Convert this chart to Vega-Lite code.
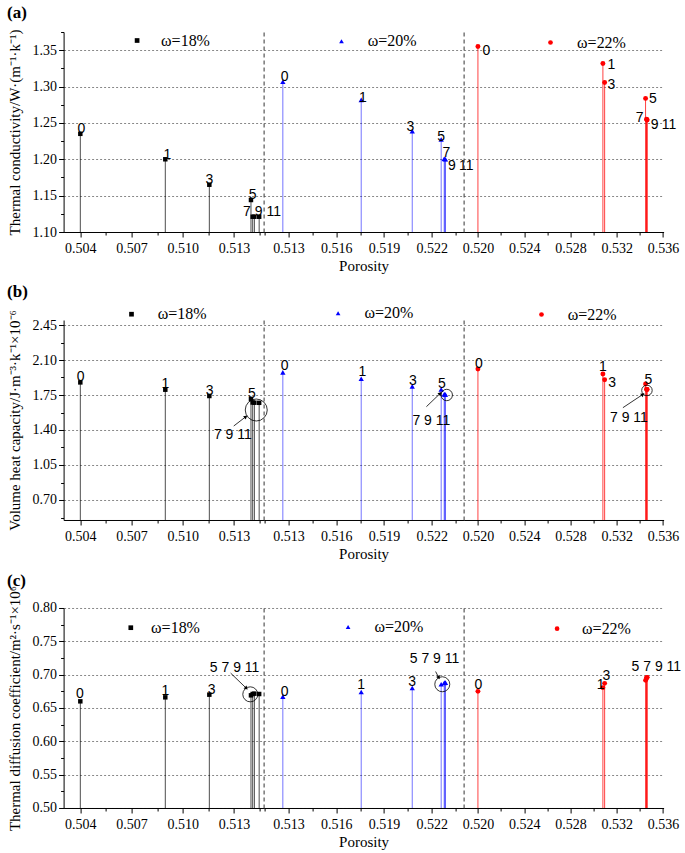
{
"$schema":"https://vega.github.io/schema/vega-lite/v6.json",
"padding":{"left":6.6,"top":4,"right":0,"bottom":0},
"background":"white",
"config":{
 "view":{"stroke":null},
 "axis":{"domainColor":"#000000","tickColor":"#000000","labelColor":"#000000","titleColor":"#000000","labelFont":"Liberation Serif","titleFont":"Liberation Serif","labelFontSize":14,"titleFontSize":15,"titleFontWeight":"normal","gridColor":"#888888","gridDash":[2,2],"labelFlush":false,"labelOverlap":false,"domainWidth":1,"tickWidth":1,"tickCount":100},
 "legend":{"labelFont":"Liberation Serif","labelFontSize":16,"labelColor":"#000000","symbolSize":22,"padding":0,"symbolStrokeWidth":0,"title":null},
 "title":{"font":"Liberation Serif","fontSize":17,"fontWeight":"bold","anchor":"start","frame":"bounds","color":"#000000"}
},
"datasets":{
 "pts":[
  {"p":"a","s":18,"omega":"ω=18%","n":0,"x":0.504,"y":1.235},
  {"p":"a","s":18,"omega":"ω=18%","n":1,"x":0.50898,"y":1.2},
  {"p":"a","s":18,"omega":"ω=18%","n":3,"x":0.51156,"y":1.165},
  {"p":"a","s":18,"omega":"ω=18%","n":5,"x":0.514,"y":1.144},
  {"p":"a","s":18,"omega":"ω=18%","n":7,"x":0.5141,"y":1.121},
  {"p":"a","s":18,"omega":"ω=18%","n":9,"x":0.5142,"y":1.121},
  {"p":"a","s":18,"omega":"ω=18%","n":11,"x":0.51448,"y":1.121},
  {"p":"a","s":20,"omega":"ω=20%","n":0,"x":0.51264,"y":1.3065},
  {"p":"a","s":20,"omega":"ω=20%","n":1,"x":0.51757,"y":1.2817},
  {"p":"a","s":20,"omega":"ω=20%","n":3,"x":0.52078,"y":1.2387},
  {"p":"a","s":20,"omega":"ω=20%","n":5,"x":0.5226,"y":1.2273},
  {"p":"a","s":20,"omega":"ω=20%","n":7,"x":0.52279,"y":1.2007},
  {"p":"a","s":20,"omega":"ω=20%","n":9,"x":0.52283,"y":1.2003},
  {"p":"a","s":20,"omega":"ω=20%","n":11,"x":0.52287,"y":1.2},
  {"p":"a","s":22,"omega":"ω=22%","n":0,"x":0.52,"y":1.355},
  {"p":"a","s":22,"omega":"ω=22%","n":1,"x":0.53081,"y":1.3317},
  {"p":"a","s":22,"omega":"ω=22%","n":3,"x":0.53096,"y":1.3056},
  {"p":"a","s":22,"omega":"ω=22%","n":5,"x":0.5345,"y":1.2837},
  {"p":"a","s":22,"omega":"ω=22%","n":7,"x":0.53458,"y":1.255},
  {"p":"a","s":22,"omega":"ω=22%","n":9,"x":0.53461,"y":1.2545},
  {"p":"a","s":22,"omega":"ω=22%","n":11,"x":0.53464,"y":1.254},
  {"p":"b","s":18,"omega":"ω=18%","n":0,"x":0.504,"y":1.876},
  {"p":"b","s":18,"omega":"ω=18%","n":1,"x":0.50898,"y":1.803},
  {"p":"b","s":18,"omega":"ω=18%","n":3,"x":0.51156,"y":1.74},
  {"p":"b","s":18,"omega":"ω=18%","n":5,"x":0.514,"y":1.71},
  {"p":"b","s":18,"omega":"ω=18%","n":7,"x":0.5141,"y":1.675},
  {"p":"b","s":18,"omega":"ω=18%","n":9,"x":0.5142,"y":1.673},
  {"p":"b","s":18,"omega":"ω=18%","n":11,"x":0.51448,"y":1.672},
  {"p":"b","s":20,"omega":"ω=20%","n":0,"x":0.51264,"y":1.976},
  {"p":"b","s":20,"omega":"ω=20%","n":1,"x":0.51757,"y":1.913},
  {"p":"b","s":20,"omega":"ω=20%","n":3,"x":0.52078,"y":1.836},
  {"p":"b","s":20,"omega":"ω=20%","n":5,"x":0.5226,"y":1.806},
  {"p":"b","s":20,"omega":"ω=20%","n":7,"x":0.52279,"y":1.758},
  {"p":"b","s":20,"omega":"ω=20%","n":9,"x":0.52283,"y":1.756},
  {"p":"b","s":20,"omega":"ω=20%","n":11,"x":0.52287,"y":1.755},
  {"p":"b","s":22,"omega":"ω=22%","n":0,"x":0.52,"y":2.01},
  {"p":"b","s":22,"omega":"ω=22%","n":1,"x":0.53081,"y":1.96},
  {"p":"b","s":22,"omega":"ω=22%","n":3,"x":0.53096,"y":1.903},
  {"p":"b","s":22,"omega":"ω=22%","n":5,"x":0.5345,"y":1.86},
  {"p":"b","s":22,"omega":"ω=22%","n":7,"x":0.53458,"y":1.808},
  {"p":"b","s":22,"omega":"ω=22%","n":9,"x":0.53461,"y":1.806},
  {"p":"b","s":22,"omega":"ω=22%","n":11,"x":0.53464,"y":1.805},
  {"p":"c","s":18,"omega":"ω=18%","n":0,"x":0.504,"y":0.66},
  {"p":"c","s":18,"omega":"ω=18%","n":1,"x":0.50898,"y":0.666},
  {"p":"c","s":18,"omega":"ω=18%","n":3,"x":0.51156,"y":0.67},
  {"p":"c","s":18,"omega":"ω=18%","n":5,"x":0.514,"y":0.669},
  {"p":"c","s":18,"omega":"ω=18%","n":7,"x":0.5141,"y":0.671},
  {"p":"c","s":18,"omega":"ω=18%","n":9,"x":0.5142,"y":0.6715},
  {"p":"c","s":18,"omega":"ω=18%","n":11,"x":0.51448,"y":0.671},
  {"p":"c","s":20,"omega":"ω=20%","n":0,"x":0.51264,"y":0.667},
  {"p":"c","s":20,"omega":"ω=20%","n":1,"x":0.51757,"y":0.674},
  {"p":"c","s":20,"omega":"ω=20%","n":3,"x":0.52078,"y":0.68},
  {"p":"c","s":20,"omega":"ω=20%","n":5,"x":0.5226,"y":0.6855},
  {"p":"c","s":20,"omega":"ω=20%","n":7,"x":0.52279,"y":0.6875},
  {"p":"c","s":20,"omega":"ω=20%","n":9,"x":0.52283,"y":0.688},
  {"p":"c","s":20,"omega":"ω=20%","n":11,"x":0.52287,"y":0.688},
  {"p":"c","s":22,"omega":"ω=22%","n":0,"x":0.52,"y":0.675},
  {"p":"c","s":22,"omega":"ω=22%","n":1,"x":0.53081,"y":0.6805},
  {"p":"c","s":22,"omega":"ω=22%","n":3,"x":0.53096,"y":0.687},
  {"p":"c","s":22,"omega":"ω=22%","n":5,"x":0.5345,"y":0.6915},
  {"p":"c","s":22,"omega":"ω=22%","n":7,"x":0.53458,"y":0.695},
  {"p":"c","s":22,"omega":"ω=22%","n":9,"x":0.53461,"y":0.6955},
  {"p":"c","s":22,"omega":"ω=22%","n":11,"x":0.53464,"y":0.696}
 ],
 "lbl":[
  {"p":"a","s":18,"t":"0","x":0.50406,"y":1.242},
  {"p":"a","s":18,"t":"1","x":0.5091,"y":1.2055},
  {"p":"a","s":18,"t":"3","x":0.51156,"y":1.1711},
  {"p":"a","s":18,"t":"5","x":0.5141,"y":1.1509},
  {"p":"a","s":18,"t":"7","x":0.51376,"y":1.1279},
  {"p":"a","s":18,"t":"9","x":0.51445,"y":1.1279},
  {"p":"a","s":18,"t":"11","x":0.51533,"y":1.1279},
  {"p":"a","s":20,"t":"0","x":0.51275,"y":1.3127},
  {"p":"a","s":20,"t":"1","x":0.51767,"y":1.2847},
  {"p":"a","s":20,"t":"3","x":0.52067,"y":1.2444},
  {"p":"a","s":20,"t":"5","x":0.5226,"y":1.2306},
  {"p":"a","s":20,"t":"7","x":0.52292,"y":1.209},
  {"p":"a","s":20,"t":"9","x":0.52328,"y":1.1907},
  {"p":"a","s":20,"t":"11","x":0.52418,"y":1.1907},
  {"p":"a","s":22,"t":"0","x":0.52073,"y":1.3489},
  {"p":"a","s":22,"t":"1","x":0.53154,"y":1.3296},
  {"p":"a","s":22,"t":"3","x":0.53154,"y":1.3017},
  {"p":"a","s":22,"t":"5","x":0.53514,"y":1.2833},
  {"p":"a","s":22,"t":"7","x":0.53399,"y":1.2563},
  {"p":"a","s":22,"t":"9","x":0.53528,"y":1.2471},
  {"p":"a","s":22,"t":"11","x":0.53652,"y":1.2471},
  {"p":"b","s":18,"t":"0","x":0.50402,"y":1.926},
  {"p":"b","s":18,"t":"1","x":0.50898,"y":1.856},
  {"p":"b","s":18,"t":"3","x":0.51158,"y":1.793},
  {"p":"b","s":18,"t":"5","x":0.51406,"y":1.763},
  {"p":"b","s":18,"t":"7 9 11","x":0.51294,"y":1.35},
  {"p":"b","s":20,"t":"0","x":0.51275,"y":2.043},
  {"p":"b","s":20,"t":"1","x":0.51765,"y":1.976},
  {"p":"b","s":20,"t":"3","x":0.52082,"y":1.893},
  {"p":"b","s":20,"t":"5","x":0.52264,"y":1.86},
  {"p":"b","s":20,"t":"7 9 11","x":0.52198,"y":1.493},
  {"p":"b","s":22,"t":"0","x":0.52009,"y":2.06},
  {"p":"b","s":22,"t":"1","x":0.53081,"y":2.033},
  {"p":"b","s":22,"t":"3","x":0.53162,"y":1.873},
  {"p":"b","s":22,"t":"5","x":0.53474,"y":1.896},
  {"p":"b","s":22,"t":"7 9 11","x":0.53306,"y":1.523},
  {"p":"c","s":18,"t":"0","x":0.50398,"y":0.6705},
  {"p":"c","s":18,"t":"1","x":0.50898,"y":0.675},
  {"p":"c","s":18,"t":"3","x":0.51169,"y":0.677},
  {"p":"c","s":18,"t":"5 7 9 11","x":0.51304,"y":0.7107},
  {"p":"c","s":20,"t":"0","x":0.51275,"y":0.674},
  {"p":"c","s":20,"t":"1","x":0.51757,"y":0.6841},
  {"p":"c","s":20,"t":"3","x":0.52078,"y":0.6891},
  {"p":"c","s":20,"t":"5 7 9 11","x":0.52218,"y":0.7234},
  {"p":"c","s":22,"t":"0","x":0.52003,"y":0.685},
  {"p":"c","s":22,"t":"1","x":0.53061,"y":0.6846},
  {"p":"c","s":22,"t":"3","x":0.53111,"y":0.6982},
  {"p":"c","s":22,"t":"5 7 9 11","x":0.53543,"y":0.7118}
 ],
 "circ":[
  {"p":"b","s":18,"x":0.51431,"y":1.6},
  {"p":"b","s":20,"x":0.52295,"y":1.75},
  {"p":"b","s":22,"x":0.53462,"y":1.796},
  {"p":"c","s":18,"x":0.51396,"y":0.6705},
  {"p":"c","s":20,"x":0.52267,"y":0.6856}
 ],
 "arr":[
  {"p":"b","s":18,"x":0.51299,"y":1.44,"x2":0.5137,"y2":1.533},
  {"p":"b","s":20,"x":0.52167,"y":1.633,"x2":0.52254,"y2":1.766},
  {"p":"b","s":22,"x":0.53254,"y":1.623,"x2":0.53427,"y2":1.756},
  {"p":"c","s":18,"x":0.51281,"y":0.7023,"x2":0.51373,"y2":0.6796},
  {"p":"c","s":20,"x":0.52225,"y":0.7047,"x2":0.52245,"y2":0.6956}
 ]
},
"spacing":9,
"resolve":{"scale":{"x":"independent","y":"independent","color":"independent","shape":"independent"},"axis":{"x":"independent","y":"independent"},"legend":{"color":"independent","shape":"independent"}},
"vconcat":[
{"title":{"text":"\u00a0\u00a0\u00a0(a)","offset":3},"bounds":"flush","spacing":0,
 "resolve":{"scale":{"x":"independent","y":"independent","color":"independent","shape":"independent"},"axis":{"x":"independent","y":"independent"},"legend":{"color":"independent","shape":"independent"}},
 "hconcat":[
  {"width":200,"height":200,"layer":[
   {"data":{"name":"pts"},"transform":[{"filter":"datum.p=='a' && datum.s==18"}],"mark":{"type":"rule","color":"#000000","strokeOpacity":0.7},
    "encoding":{"x":{"field":"x","type":"quantitative","scale":{"domain":[0.50302,0.51474],"nice":false,"zero":false},"axis":{"title":null,"grid":false,"tickCount":100,"values":[0.504,0.5055,0.507,0.5085,0.51,0.5115,0.513,0.5145],"labelExpr":"abs((datum.value-0.504)/0.003-round((datum.value-0.504)/0.003))<0.01 ? format(datum.value,'.3f') : ''","tickSize":{"condition":{"test":"abs((datum.value-0.504)/0.003-round((datum.value-0.504)/0.003))<0.01","value":5},"value":3},"labelPadding":4.5}},
     "y":{"field":"y","type":"quantitative","scale":{"domain":[1.1,1.375],"nice":false,"zero":false},"axis":{"title":"Thermal conductivity/W·(m⁻¹·k⁻¹)","tickCount":100,"values":[1.1,1.125,1.15,1.175,1.2,1.225,1.25,1.275,1.3,1.325,1.35,1.375],"labelExpr":"abs(datum.value*20-round(datum.value*20))<0.01 ? format(datum.value,'.2f') : ''","tickSize":{"condition":{"test":"abs(datum.value*20-round(datum.value*20))<0.01","value":5},"value":3},"gridOpacity":{"condition":{"test":"abs(datum.value*20-round(datum.value*20))<0.01","value":1},"value":0},"labelPadding":2,"titlePadding":10}},
     "y2":{"datum":1.1}}},
   {"data":{"name":"pts"},"transform":[{"filter":"datum.p=='a' && datum.s==18"}],"mark":{"type":"point","filled":true,"opacity":1,"size":20},
    "encoding":{"x":{"field":"x","type":"quantitative"},"y":{"field":"y","type":"quantitative"},
     "color":{"field":"omega","type":"nominal","scale":{"domain":["ω=18%"],"range":["#000000"]},"legend":{"orient":"none","legendX":65.5,"legendY":0.5,"labelOffset":16}},
     "shape":{"field":"omega","type":"nominal","scale":{"domain":["ω=18%"],"range":["square"]}}}},
   {"data":{"name":"lbl"},"transform":[{"filter":"datum.p=='a' && datum.s==18"}],"mark":{"type":"text","font":"Liberation Sans","fontSize":14,"color":"#000000"},
    "encoding":{"x":{"field":"x","type":"quantitative"},"y":{"field":"y","type":"quantitative"},"text":{"field":"t"}}}
  ]},
  {"width":200,"height":200,"layer":[
   {"data":{"name":"pts"},"transform":[{"filter":"datum.p=='a' && datum.s==20"}],"mark":{"type":"rule","color":"#0000ff","strokeOpacity":0.55},
    "encoding":{"x":{"field":"x","type":"quantitative","scale":{"domain":[0.51143,0.52401],"nice":false,"zero":false},"axis":{"title":"Porosity","titlePadding":3,"grid":false,"tickCount":100,"values":[0.5115,0.513,0.5145,0.516,0.5175,0.519,0.5205,0.522,0.5235],"labelExpr":"abs((datum.value-0.513)/0.003-round((datum.value-0.513)/0.003))<0.01 ? format(datum.value,'.3f') : ''","tickSize":{"condition":{"test":"abs((datum.value-0.513)/0.003-round((datum.value-0.513)/0.003))<0.01","value":5},"value":3},"labelPadding":4.5}},
     "y":{"field":"y","type":"quantitative","scale":{"domain":[1.1,1.375],"nice":false,"zero":false},"axis":{"title":null,"labels":false,"ticks":false,"domainDash":[4,3],"domainColor":"#333333","minExtent":0,"tickCount":100,"values":[1.1,1.125,1.15,1.175,1.2,1.225,1.25,1.275,1.3,1.325,1.35,1.375],"gridOpacity":{"condition":{"test":"abs(datum.value*20-round(datum.value*20))<0.01","value":1},"value":0}}},
     "y2":{"datum":1.1}}},
   {"data":{"name":"pts"},"transform":[{"filter":"datum.p=='a' && datum.s==20"}],"mark":{"type":"point","filled":true,"opacity":1,"size":28},
    "encoding":{"x":{"field":"x","type":"quantitative"},"y":{"field":"y","type":"quantitative"},
     "color":{"field":"omega","type":"nominal","scale":{"domain":["ω=20%"],"range":["#0000ff"]},"legend":{"orient":"none","legendX":69.9,"legendY":1.2,"labelOffset":18.3}},
     "shape":{"field":"omega","type":"nominal","scale":{"domain":["ω=20%"],"range":["triangle-up"]}}}},
   {"data":{"name":"lbl"},"transform":[{"filter":"datum.p=='a' && datum.s==20"}],"mark":{"type":"text","font":"Liberation Sans","fontSize":14,"color":"#000000"},
    "encoding":{"x":{"field":"x","type":"quantitative"},"y":{"field":"y","type":"quantitative"},"text":{"field":"t"}}}
  ]},
  {"width":200,"height":200,"layer":[
   {"data":{"name":"pts"},"transform":[{"filter":"datum.p=='a' && datum.s==22"}],"mark":{"type":"rule","color":"#ff0000","strokeOpacity":0.75},
    "encoding":{"x":{"field":"x","type":"quantitative","scale":{"domain":[0.51876,0.53606],"nice":false,"zero":false},"axis":{"title":null,"grid":false,"tickCount":100,"values":[0.52,0.522,0.524,0.526,0.528,0.53,0.532,0.534,0.536],"labelExpr":"abs((datum.value-0.52)/0.004-round((datum.value-0.52)/0.004))<0.01 ? format(datum.value,'.3f') : ''","tickSize":{"condition":{"test":"abs((datum.value-0.52)/0.004-round((datum.value-0.52)/0.004))<0.01","value":5},"value":3},"labelPadding":4.5}},
     "y":{"field":"y","type":"quantitative","scale":{"domain":[1.1,1.375],"nice":false,"zero":false},"axis":{"title":null,"labels":false,"ticks":false,"domainDash":[4,3],"domainColor":"#333333","minExtent":0,"tickCount":100,"values":[1.1,1.125,1.15,1.175,1.2,1.225,1.25,1.275,1.3,1.325,1.35,1.375],"gridOpacity":{"condition":{"test":"abs(datum.value*20-round(datum.value*20))<0.01","value":1},"value":0}}},
     "y2":{"datum":1.1}}},
   {"data":{"name":"pts"},"transform":[{"filter":"datum.p=='a' && datum.s==22"}],"mark":{"type":"point","filled":true,"opacity":1,"size":24},
    "encoding":{"x":{"field":"x","type":"quantitative"},"y":{"field":"y","type":"quantitative"},
     "color":{"field":"omega","type":"nominal","scale":{"domain":["ω=22%"],"range":["#ff0000"]},"legend":{"orient":"none","legendX":78.9,"legendY":2.5,"labelOffset":18.6}},
     "shape":{"field":"omega","type":"nominal","scale":{"domain":["ω=22%"],"range":["circle"]}}}},
   {"data":{"name":"lbl"},"transform":[{"filter":"datum.p=='a' && datum.s==22"}],"mark":{"type":"text","font":"Liberation Sans","fontSize":14,"color":"#000000"},
    "encoding":{"x":{"field":"x","type":"quantitative"},"y":{"field":"y","type":"quantitative"},"text":{"field":"t"}}}
  ]}
 ]},
{"title":{"text":"\u00a0\u00a0\u00a0\u00a0(b)","offset":4},"bounds":"flush","spacing":0,
 "resolve":{"scale":{"x":"independent","y":"independent","color":"independent","shape":"independent"},"axis":{"x":"independent","y":"independent"},"legend":{"color":"independent","shape":"independent"}},
 "hconcat":[
  {"width":200,"height":200,"layer":[
   {"data":{"name":"pts"},"transform":[{"filter":"datum.p=='b' && datum.s==18"}],"mark":{"type":"rule","color":"#000000","strokeOpacity":0.7},
    "encoding":{"x":{"field":"x","type":"quantitative","scale":{"domain":[0.50302,0.51474],"nice":false,"zero":false},"axis":{"title":null,"grid":false,"tickCount":100,"values":[0.504,0.5055,0.507,0.5085,0.51,0.5115,0.513,0.5145],"labelExpr":"abs((datum.value-0.504)/0.003-round((datum.value-0.504)/0.003))<0.01 ? format(datum.value,'.3f') : ''","tickSize":{"condition":{"test":"abs((datum.value-0.504)/0.003-round((datum.value-0.504)/0.003))<0.01","value":5},"value":3},"labelPadding":4.5}},
     "y":{"field":"y","type":"quantitative","scale":{"domain":[0.5,2.5],"nice":false,"zero":false},"axis":{"title":"Volume heat capacity/J·m⁻³·k⁻¹×10⁻⁶","tickCount":100,"values":[0.525,0.7,0.875,1.05,1.225,1.4,1.575,1.75,1.925,2.1,2.275,2.45],"labelExpr":"abs((datum.value-0.7)/0.35-round((datum.value-0.7)/0.35))<0.01 ? format(datum.value,'.2f') : ''","tickSize":{"condition":{"test":"abs((datum.value-0.7)/0.35-round((datum.value-0.7)/0.35))<0.01","value":5},"value":3},"gridOpacity":{"condition":{"test":"abs((datum.value-0.7)/0.35-round((datum.value-0.7)/0.35))<0.01","value":1},"value":0},"labelPadding":2,"titlePadding":10}},
     "y2":{"datum":0.5}}},
   {"data":{"name":"pts"},"transform":[{"filter":"datum.p=='b' && datum.s==18"}],"mark":{"type":"point","filled":true,"opacity":1,"size":20},
    "encoding":{"x":{"field":"x","type":"quantitative"},"y":{"field":"y","type":"quantitative"},
     "color":{"field":"omega","type":"nominal","scale":{"domain":["ω=18%"],"range":["#000000"]},"legend":{"orient":"none","legendX":59.9,"legendY":-13.8,"labelOffset":18.3}},
     "shape":{"field":"omega","type":"nominal","scale":{"domain":["ω=18%"],"range":["square"]}}}},
   {"data":{"name":"lbl"},"transform":[{"filter":"datum.p=='b' && datum.s==18"}],"mark":{"type":"text","font":"Liberation Sans","fontSize":14,"color":"#000000"},
    "encoding":{"x":{"field":"x","type":"quantitative"},"y":{"field":"y","type":"quantitative"},"text":{"field":"t"}}},
   {"data":{"name":"circ"},"transform":[{"filter":"datum.p=='b' && datum.s==18"}],"mark":{"type":"point","shape":"circle","filled":false,"color":"#000000","strokeWidth":0.8,"opacity":1,"size":484},
    "encoding":{"x":{"field":"x","type":"quantitative"},"y":{"field":"y","type":"quantitative"}}},
   {"data":{"name":"arr"},"transform":[{"filter":"datum.p=='b' && datum.s==18"}],"mark":{"type":"rule","color":"#000000","strokeWidth":0.8},
    "encoding":{"x":{"field":"x","type":"quantitative"},"y":{"field":"y","type":"quantitative"},"x2":{"field":"x2"},"y2":{"field":"y2"}}},
   {"data":{"name":"arr"},"transform":[{"filter":"datum.p=='b' && datum.s==18"}],"mark":{"type":"point","shape":"triangle-up","filled":true,"color":"#000000","opacity":1,"size":18,"angle":52},
    "encoding":{"x":{"field":"x2","type":"quantitative"},"y":{"field":"y2","type":"quantitative"}}}
  ]},
  {"width":200,"height":200,"layer":[
   {"data":{"name":"pts"},"transform":[{"filter":"datum.p=='b' && datum.s==20"}],"mark":{"type":"rule","color":"#0000ff","strokeOpacity":0.55},
    "encoding":{"x":{"field":"x","type":"quantitative","scale":{"domain":[0.51143,0.52401],"nice":false,"zero":false},"axis":{"title":"Porosity","titlePadding":3,"grid":false,"tickCount":100,"values":[0.5115,0.513,0.5145,0.516,0.5175,0.519,0.5205,0.522,0.5235],"labelExpr":"abs((datum.value-0.513)/0.003-round((datum.value-0.513)/0.003))<0.01 ? format(datum.value,'.3f') : ''","tickSize":{"condition":{"test":"abs((datum.value-0.513)/0.003-round((datum.value-0.513)/0.003))<0.01","value":5},"value":3},"labelPadding":4.5}},
     "y":{"field":"y","type":"quantitative","scale":{"domain":[0.5,2.5],"nice":false,"zero":false},"axis":{"title":null,"labels":false,"ticks":false,"domainDash":[4,3],"domainColor":"#333333","minExtent":0,"tickCount":100,"values":[0.525,0.7,0.875,1.05,1.225,1.4,1.575,1.75,1.925,2.1,2.275,2.45],"gridOpacity":{"condition":{"test":"abs((datum.value-0.7)/0.35-round((datum.value-0.7)/0.35))<0.01","value":1},"value":0}}},
     "y2":{"datum":0.5}}},
   {"data":{"name":"pts"},"transform":[{"filter":"datum.p=='b' && datum.s==20"}],"mark":{"type":"point","filled":true,"opacity":1,"size":28},
    "encoding":{"x":{"field":"x","type":"quantitative"},"y":{"field":"y","type":"quantitative"},
     "color":{"field":"omega","type":"nominal","scale":{"domain":["ω=20%"],"range":["#0000ff"]},"legend":{"orient":"none","legendX":66.5,"legendY":-14.8,"labelOffset":18.4}},
     "shape":{"field":"omega","type":"nominal","scale":{"domain":["ω=20%"],"range":["triangle-up"]}}}},
   {"data":{"name":"lbl"},"transform":[{"filter":"datum.p=='b' && datum.s==20"}],"mark":{"type":"text","font":"Liberation Sans","fontSize":14,"color":"#000000"},
    "encoding":{"x":{"field":"x","type":"quantitative"},"y":{"field":"y","type":"quantitative"},"text":{"field":"t"}}},
   {"data":{"name":"circ"},"transform":[{"filter":"datum.p=='b' && datum.s==20"}],"mark":{"type":"point","shape":"circle","filled":false,"color":"#000000","strokeWidth":0.8,"opacity":1,"size":130},
    "encoding":{"x":{"field":"x","type":"quantitative"},"y":{"field":"y","type":"quantitative"}}},
   {"data":{"name":"arr"},"transform":[{"filter":"datum.p=='b' && datum.s==20"}],"mark":{"type":"rule","color":"#000000","strokeWidth":0.8},
    "encoding":{"x":{"field":"x","type":"quantitative"},"y":{"field":"y","type":"quantitative"},"x2":{"field":"x2"},"y2":{"field":"y2"}}},
   {"data":{"name":"arr"},"transform":[{"filter":"datum.p=='b' && datum.s==20"}],"mark":{"type":"point","shape":"triangle-up","filled":true,"color":"#000000","opacity":1,"size":18,"angle":46},
    "encoding":{"x":{"field":"x2","type":"quantitative"},"y":{"field":"y2","type":"quantitative"}}}
  ]},
  {"width":200,"height":200,"layer":[
   {"data":{"name":"pts"},"transform":[{"filter":"datum.p=='b' && datum.s==22"}],"mark":{"type":"rule","color":"#ff0000","strokeOpacity":0.75},
    "encoding":{"x":{"field":"x","type":"quantitative","scale":{"domain":[0.51876,0.53606],"nice":false,"zero":false},"axis":{"title":null,"grid":false,"tickCount":100,"values":[0.52,0.522,0.524,0.526,0.528,0.53,0.532,0.534,0.536],"labelExpr":"abs((datum.value-0.52)/0.004-round((datum.value-0.52)/0.004))<0.01 ? format(datum.value,'.3f') : ''","tickSize":{"condition":{"test":"abs((datum.value-0.52)/0.004-round((datum.value-0.52)/0.004))<0.01","value":5},"value":3},"labelPadding":4.5}},
     "y":{"field":"y","type":"quantitative","scale":{"domain":[0.5,2.5],"nice":false,"zero":false},"axis":{"title":null,"labels":false,"ticks":false,"domainDash":[4,3],"domainColor":"#333333","minExtent":0,"tickCount":100,"values":[0.525,0.7,0.875,1.05,1.225,1.4,1.575,1.75,1.925,2.1,2.275,2.45],"gridOpacity":{"condition":{"test":"abs((datum.value-0.7)/0.35-round((datum.value-0.7)/0.35))<0.01","value":1},"value":0}}},
     "y2":{"datum":0.5}}},
   {"data":{"name":"pts"},"transform":[{"filter":"datum.p=='b' && datum.s==22"}],"mark":{"type":"point","filled":true,"opacity":1,"size":24},
    "encoding":{"x":{"field":"x","type":"quantitative"},"y":{"field":"y","type":"quantitative"},
     "color":{"field":"omega","type":"nominal","scale":{"domain":["ω=22%"],"range":["#ff0000"]},"legend":{"orient":"none","legendX":69.9,"legendY":-13.5,"labelOffset":18.3}},
     "shape":{"field":"omega","type":"nominal","scale":{"domain":["ω=22%"],"range":["circle"]}}}},
   {"data":{"name":"lbl"},"transform":[{"filter":"datum.p=='b' && datum.s==22"}],"mark":{"type":"text","font":"Liberation Sans","fontSize":14,"color":"#000000"},
    "encoding":{"x":{"field":"x","type":"quantitative"},"y":{"field":"y","type":"quantitative"},"text":{"field":"t"}}},
   {"data":{"name":"circ"},"transform":[{"filter":"datum.p=='b' && datum.s==22"}],"mark":{"type":"point","shape":"circle","filled":false,"color":"#000000","strokeWidth":0.8,"opacity":1,"size":110},
    "encoding":{"x":{"field":"x","type":"quantitative"},"y":{"field":"y","type":"quantitative"}}},
   {"data":{"name":"arr"},"transform":[{"filter":"datum.p=='b' && datum.s==22"}],"mark":{"type":"rule","color":"#000000","strokeWidth":0.8},
    "encoding":{"x":{"field":"x","type":"quantitative"},"y":{"field":"y","type":"quantitative"},"x2":{"field":"x2"},"y2":{"field":"y2"}}},
   {"data":{"name":"arr"},"transform":[{"filter":"datum.p=='b' && datum.s==22"}],"mark":{"type":"point","shape":"triangle-up","filled":true,"color":"#000000","opacity":1,"size":18,"angle":56},
    "encoding":{"x":{"field":"x2","type":"quantitative"},"y":{"field":"y2","type":"quantitative"}}}
  ]}
 ]},
{"title":{"text":"\u00a0\u00a0\u00a0\u00a0(c)","offset":-4.5},"bounds":"flush","spacing":0,
 "resolve":{"scale":{"x":"independent","y":"independent","color":"independent","shape":"independent"},"axis":{"x":"independent","y":"independent"},"legend":{"color":"independent","shape":"independent"}},
 "hconcat":[
  {"width":200,"height":200,"layer":[
   {"data":{"name":"pts"},"transform":[{"filter":"datum.p=='c' && datum.s==18"}],"mark":{"type":"rule","color":"#000000","strokeOpacity":0.7},
    "encoding":{"x":{"field":"x","type":"quantitative","scale":{"domain":[0.50302,0.51474],"nice":false,"zero":false},"axis":{"title":null,"grid":false,"tickCount":100,"values":[0.504,0.5055,0.507,0.5085,0.51,0.5115,0.513,0.5145],"labelExpr":"abs((datum.value-0.504)/0.003-round((datum.value-0.504)/0.003))<0.01 ? format(datum.value,'.3f') : ''","tickSize":{"condition":{"test":"abs((datum.value-0.504)/0.003-round((datum.value-0.504)/0.003))<0.01","value":5},"value":3},"labelPadding":4.5}},
     "y":{"field":"y","type":"quantitative","scale":{"domain":[0.5,0.8],"nice":false,"zero":false},"axis":{"title":"Thermal diffusion coefficient/m²·s⁻¹×10⁶","tickCount":100,"values":[0.5,0.525,0.55,0.575,0.6,0.625,0.65,0.675,0.7,0.725,0.75,0.775,0.8],"labelExpr":"abs(datum.value*20-round(datum.value*20))<0.01 ? format(datum.value,'.2f') : ''","tickSize":{"condition":{"test":"abs(datum.value*20-round(datum.value*20))<0.01","value":5},"value":3},"gridOpacity":{"condition":{"test":"abs(datum.value*20-round(datum.value*20))<0.01","value":1},"value":0},"labelPadding":2,"titlePadding":10}},
     "y2":{"datum":0.5}}},
   {"data":{"name":"pts"},"transform":[{"filter":"datum.p=='c' && datum.s==18"}],"mark":{"type":"point","filled":true,"opacity":1,"size":20},
    "encoding":{"x":{"field":"x","type":"quantitative"},"y":{"field":"y","type":"quantitative"},
     "color":{"field":"omega","type":"nominal","scale":{"domain":["ω=18%"],"range":["#000000"]},"legend":{"orient":"none","legendX":59.2,"legendY":11.7,"labelOffset":12.3}},
     "shape":{"field":"omega","type":"nominal","scale":{"domain":["ω=18%"],"range":["square"]}}}},
   {"data":{"name":"lbl"},"transform":[{"filter":"datum.p=='c' && datum.s==18"}],"mark":{"type":"text","font":"Liberation Sans","fontSize":14,"color":"#000000"},
    "encoding":{"x":{"field":"x","type":"quantitative"},"y":{"field":"y","type":"quantitative"},"text":{"field":"t"}}},
   {"data":{"name":"circ"},"transform":[{"filter":"datum.p=='c' && datum.s==18"}],"mark":{"type":"point","shape":"circle","filled":false,"color":"#000000","strokeWidth":0.8,"opacity":1,"size":225},
    "encoding":{"x":{"field":"x","type":"quantitative"},"y":{"field":"y","type":"quantitative"}}},
   {"data":{"name":"arr"},"transform":[{"filter":"datum.p=='c' && datum.s==18"}],"mark":{"type":"rule","color":"#000000","strokeWidth":0.8},
    "encoding":{"x":{"field":"x","type":"quantitative"},"y":{"field":"y","type":"quantitative"},"x2":{"field":"x2"},"y2":{"field":"y2"}}},
   {"data":{"name":"arr"},"transform":[{"filter":"datum.p=='c' && datum.s==18"}],"mark":{"type":"point","shape":"triangle-up","filled":true,"color":"#000000","opacity":1,"size":18,"angle":134},
    "encoding":{"x":{"field":"x2","type":"quantitative"},"y":{"field":"y2","type":"quantitative"}}}
  ]},
  {"width":200,"height":200,"layer":[
   {"data":{"name":"pts"},"transform":[{"filter":"datum.p=='c' && datum.s==20"}],"mark":{"type":"rule","color":"#0000ff","strokeOpacity":0.55},
    "encoding":{"x":{"field":"x","type":"quantitative","scale":{"domain":[0.51143,0.52401],"nice":false,"zero":false},"axis":{"title":"Porosity","titlePadding":3,"grid":false,"tickCount":100,"values":[0.5115,0.513,0.5145,0.516,0.5175,0.519,0.5205,0.522,0.5235],"labelExpr":"abs((datum.value-0.513)/0.003-round((datum.value-0.513)/0.003))<0.01 ? format(datum.value,'.3f') : ''","tickSize":{"condition":{"test":"abs((datum.value-0.513)/0.003-round((datum.value-0.513)/0.003))<0.01","value":5},"value":3},"labelPadding":4.5}},
     "y":{"field":"y","type":"quantitative","scale":{"domain":[0.5,0.8],"nice":false,"zero":false},"axis":{"title":null,"labels":false,"ticks":false,"domainDash":[4,3],"domainColor":"#333333","minExtent":0,"tickCount":100,"values":[0.5,0.525,0.55,0.575,0.6,0.625,0.65,0.675,0.7,0.725,0.75,0.775,0.8],"gridOpacity":{"condition":{"test":"abs(datum.value*20-round(datum.value*20))<0.01","value":1},"value":0}}},
     "y2":{"datum":0.5}}},
   {"data":{"name":"pts"},"transform":[{"filter":"datum.p=='c' && datum.s==20"}],"mark":{"type":"point","filled":true,"opacity":1,"size":28},
    "encoding":{"x":{"field":"x","type":"quantitative"},"y":{"field":"y","type":"quantitative"},
     "color":{"field":"omega","type":"nominal","scale":{"domain":["ω=20%"],"range":["#0000ff"]},"legend":{"orient":"none","legendX":76.5,"legendY":11,"labelOffset":18.4}},
     "shape":{"field":"omega","type":"nominal","scale":{"domain":["ω=20%"],"range":["triangle-up"]}}}},
   {"data":{"name":"lbl"},"transform":[{"filter":"datum.p=='c' && datum.s==20"}],"mark":{"type":"text","font":"Liberation Sans","fontSize":14,"color":"#000000"},
    "encoding":{"x":{"field":"x","type":"quantitative"},"y":{"field":"y","type":"quantitative"},"text":{"field":"t"}}},
   {"data":{"name":"circ"},"transform":[{"filter":"datum.p=='c' && datum.s==20"}],"mark":{"type":"point","shape":"circle","filled":false,"color":"#000000","strokeWidth":0.8,"opacity":1,"size":225},
    "encoding":{"x":{"field":"x","type":"quantitative"},"y":{"field":"y","type":"quantitative"}}},
   {"data":{"name":"arr"},"transform":[{"filter":"datum.p=='c' && datum.s==20"}],"mark":{"type":"rule","color":"#000000","strokeWidth":0.8},
    "encoding":{"x":{"field":"x","type":"quantitative"},"y":{"field":"y","type":"quantitative"},"x2":{"field":"x2"},"y2":{"field":"y2"}}},
   {"data":{"name":"arr"},"transform":[{"filter":"datum.p=='c' && datum.s==20"}],"mark":{"type":"point","shape":"triangle-up","filled":true,"color":"#000000","opacity":1,"size":18,"angle":151},
    "encoding":{"x":{"field":"x2","type":"quantitative"},"y":{"field":"y2","type":"quantitative"}}}
  ]},
  {"width":200,"height":200,"layer":[
   {"data":{"name":"pts"},"transform":[{"filter":"datum.p=='c' && datum.s==22"}],"mark":{"type":"rule","color":"#ff0000","strokeOpacity":0.75},
    "encoding":{"x":{"field":"x","type":"quantitative","scale":{"domain":[0.51876,0.53606],"nice":false,"zero":false},"axis":{"title":null,"grid":false,"tickCount":100,"values":[0.52,0.522,0.524,0.526,0.528,0.53,0.532,0.534,0.536],"labelExpr":"abs((datum.value-0.52)/0.004-round((datum.value-0.52)/0.004))<0.01 ? format(datum.value,'.3f') : ''","tickSize":{"condition":{"test":"abs((datum.value-0.52)/0.004-round((datum.value-0.52)/0.004))<0.01","value":5},"value":3},"labelPadding":4.5}},
     "y":{"field":"y","type":"quantitative","scale":{"domain":[0.5,0.8],"nice":false,"zero":false},"axis":{"title":null,"labels":false,"ticks":false,"domainDash":[4,3],"domainColor":"#333333","minExtent":0,"tickCount":100,"values":[0.5,0.525,0.55,0.575,0.6,0.625,0.65,0.675,0.7,0.725,0.75,0.775,0.8],"gridOpacity":{"condition":{"test":"abs(datum.value*20-round(datum.value*20))<0.01","value":1},"value":0}}},
     "y2":{"datum":0.5}}},
   {"data":{"name":"pts"},"transform":[{"filter":"datum.p=='c' && datum.s==22"}],"mark":{"type":"point","filled":true,"opacity":1,"size":24},
    "encoding":{"x":{"field":"x","type":"quantitative"},"y":{"field":"y","type":"quantitative"},
     "color":{"field":"omega","type":"nominal","scale":{"domain":["ω=22%"],"range":["#ff0000"]},"legend":{"orient":"none","legendX":85.5,"legendY":12.7,"labelOffset":17}},
     "shape":{"field":"omega","type":"nominal","scale":{"domain":["ω=22%"],"range":["circle"]}}}},
   {"data":{"name":"lbl"},"transform":[{"filter":"datum.p=='c' && datum.s==22"}],"mark":{"type":"text","font":"Liberation Sans","fontSize":14,"color":"#000000"},
    "encoding":{"x":{"field":"x","type":"quantitative"},"y":{"field":"y","type":"quantitative"},"text":{"field":"t"}}}
  ]}
 ]}
]
}
